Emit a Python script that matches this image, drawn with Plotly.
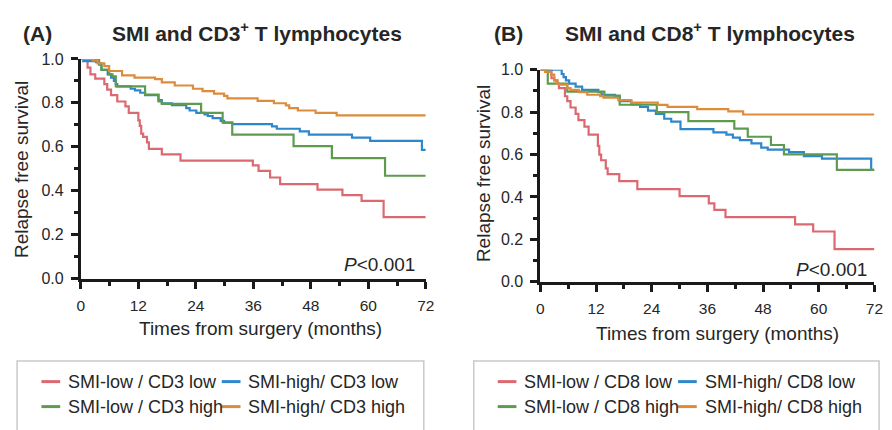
import plotly.graph_objects as go

W, H = 892, 430

# ---------------- data ----------------
months_ticks = [0, 12, 24, 36, 48, 60, 72]
surv_ticks = [0.0, 0.2, 0.4, 0.6, 0.8, 1.0]

# Panel A : SMI and CD3+ T lymphocytes
a_names = ["SMI-low / CD3 low", "SMI-high/ CD3 low", "SMI-low / CD3 high", "SMI-high/ CD3 high"]
a_lowlow_t = [0, 1.4, 2.0, 3.0, 4.9, 5.5, 6.3, 7.6, 9.3, 10.0, 12.0, 12.3, 12.6, 13.0, 13.8, 14.2,
              16.9, 20.8, 35.9, 37.1, 39.5, 41.6, 49.4, 54.6, 58.6, 63.2, 72]
a_lowlow_s = [1.0, 0.96, 0.93, 0.91, 0.885, 0.86, 0.835, 0.806, 0.784, 0.754, 0.72, 0.695, 0.66, 0.645,
              0.62, 0.59, 0.565, 0.537, 0.515, 0.49, 0.46, 0.43, 0.405, 0.38, 0.354, 0.28, 0.28]
a_highlow_t = [0, 0.5, 3.2, 3.8, 4.3, 5.6, 6.3, 6.9, 7.3, 7.6, 10.4, 11.3, 12.4, 13.4, 16.2, 16.9, 19.0,
               22.0, 22.7, 24.1, 25.8, 26.5, 27.5, 29.2, 29.9, 31.6, 39.9, 40.9, 45.7, 47.6, 56.6, 60.4,
               71.2, 72]
a_highlow_s = [1.0, 0.99, 0.985, 0.974, 0.95, 0.93, 0.915, 0.90, 0.885, 0.875, 0.864, 0.857, 0.846, 0.835,
               0.813, 0.798, 0.79, 0.776, 0.765, 0.754, 0.747, 0.74, 0.73, 0.718, 0.71, 0.703, 0.693,
               0.682, 0.67, 0.655, 0.642, 0.627, 0.586, 0.586]
a_lowhigh_t = [0, 3.8, 4.3, 5.9, 6.6, 7.3, 13.4, 16.2, 16.9, 25.1, 29.6, 31.6, 44.4, 52.4, 63.5, 72]
a_lowhigh_s = [1.0, 0.98, 0.95, 0.93, 0.92, 0.875, 0.838, 0.806, 0.795, 0.754, 0.71, 0.655, 0.603,
               0.548, 0.468, 0.468]
a_highhigh_t = [0, 2.5, 3.5, 4.9, 5.9, 8.6, 11.2, 15.5, 16.9, 19.6, 23.4, 25.4, 27.8, 29.9, 30.6, 36.9,
                40.3, 42.8, 43.5, 45.3, 49.0, 53.4, 72]
a_highhigh_s = [1.0, 0.993, 0.98, 0.967, 0.945, 0.925, 0.915, 0.908, 0.893, 0.879, 0.864, 0.853, 0.842,
                0.832, 0.82, 0.809, 0.798, 0.788, 0.776, 0.765, 0.754, 0.743, 0.743]

# Panel B : SMI and CD8+ T lymphocytes
b_names = ["SMI-low / CD8 low", "SMI-high/ CD8 low", "SMI-low / CD8 high", "SMI-high/ CD8 high"]
b_lowlow_t = [0, 2.4, 3.0, 3.7, 4.0, 5.3, 5.8, 6.5, 7.6, 8.2, 9.5, 10.4, 12.4, 12.7, 13.1, 14.1, 14.5,
              17.0, 20.9, 30.0, 36.3, 37.5, 39.9, 54.9, 58.8, 63.4, 72]
b_lowlow_s = [1.0, 0.96, 0.95, 0.935, 0.913, 0.875, 0.852, 0.822, 0.792, 0.762, 0.732, 0.694, 0.641,
              0.60, 0.573, 0.535, 0.508, 0.475, 0.437, 0.404, 0.37, 0.339, 0.305, 0.271, 0.237, 0.154,
              0.154]
b_highlow_t = [0, 4.6, 5.0, 5.5, 6.2, 7.6, 9.0, 12.5, 13.2, 16.1, 17.1, 19.6, 21.5, 23.2, 24.9, 26.7,
               28.2, 30.2, 37.3, 40.1, 41.5, 43.0, 45.5, 47.6, 49.0, 53.6, 56.8, 60.7, 71.3, 72]
b_highlow_s = [1.0, 0.98, 0.965, 0.95, 0.935, 0.92, 0.905, 0.894, 0.882, 0.875, 0.852, 0.837, 0.825,
               0.807, 0.792, 0.769, 0.755, 0.72, 0.705, 0.694, 0.68, 0.668, 0.653, 0.633, 0.623, 0.611,
               0.593, 0.581, 0.528, 0.528]
b_lowhigh_t = [0, 1.6, 5.8, 13.8, 17.1, 25.1, 31.9, 41.8, 44.7, 49.7, 52.5, 63.9, 72]
b_lowhigh_s = [1.0, 0.935, 0.897, 0.878, 0.835, 0.80, 0.758, 0.722, 0.684, 0.645, 0.601, 0.528, 0.528]
b_highhigh_t = [0, 1.0, 2.3, 3.0, 3.5, 4.0, 5.8, 6.5, 8.3, 10.1, 12.9, 13.6, 16.8, 19.6, 25.3, 27.4,
                33.8, 40.5, 43.7, 72]
b_highhigh_s = [1.0, 0.99, 0.977, 0.95, 0.935, 0.93, 0.913, 0.905, 0.894, 0.882, 0.875, 0.868, 0.857,
                0.845, 0.834, 0.825, 0.814, 0.804, 0.789, 0.789]

colors = ["#dc6870", "#2f87cb", "#5f9b4f", "#dd8c3d"]
panel_titles = ["SMI and CD3<sup>+</sup> T lymphocytes", "SMI and CD8<sup>+</sup> T lymphocytes"]
panel_tags = ["(A)", "(B)"]
p_text = "<i>P</i>&lt;0.001"

FONT = "Liberation Sans, Arial, sans-serif"
TXT = "#262626"


def px(x):
    return x / W


def py(y):
    return 1 - y / H


# plot-area pixel boxes (left, right, top(1.0), bottom(0.0))
boxes = [(78, 428, 53, 281.7), (544.3, 883.3, 64.3, 285)]

series = [
    [(a_lowlow_t, a_lowlow_s), (a_highlow_t, a_highlow_s), (a_lowhigh_t, a_lowhigh_s), (a_highhigh_t, a_highhigh_s)],
    [(b_lowlow_t, b_lowlow_s), (b_highlow_t, b_highlow_s), (b_lowhigh_t, b_lowhigh_s), (b_highhigh_t, b_highhigh_s)],
]
names = [a_names, b_names]

fig = go.Figure()
annotations = []
shapes = []

for p in range(2):
    xa = "x" if p == 0 else "x2"
    ya = "y" if p == 0 else "y2"
    for k, (t, s) in enumerate(series[p]):
        fig.add_trace(go.Scatter(x=t, y=s, mode="lines", line=dict(shape="hv", color=colors[k], width=2.2),
                                 name=names[p][k], xaxis=xa, yaxis=ya, showlegend=False))

axis_common = dict(showgrid=False, zeroline=False, showline=True, linecolor="#1a1a1a", linewidth=3,
                   ticks="outside", tickcolor="#1a1a1a", tickwidth=2.5, ticklen=7,
                   tickfont=dict(family=FONT, size=16, color=TXT))

layout_axes = {}
for p in range(2):
    l, r, top, bot = boxes[p]
    sfx = "" if p == 0 else "2"
    layout_axes["xaxis" + sfx] = dict(axis_common, domain=[px(l), px(r)], range=[0, 72],
                                      tickvals=months_ticks, anchor="y" + sfx, ticklabelstandoff=4,
                                      tickfont=dict(family=FONT, size=15.5, color=TXT),
                                      minor=dict(dtick=6, tick0=0, ticks="outside", ticklen=4, tickwidth=2.5,
                                                 tickcolor="#1a1a1a"))
    layout_axes["yaxis" + sfx] = dict(axis_common, domain=[py(bot), py(top)], range=[0, 1],
                                      tickvals=surv_ticks, tickformat=".1f", anchor="x" + sfx,
                                      ticklabelstandoff=4,
                                      minor=dict(dtick=0.1, tick0=0, ticks="outside", ticklen=4, tickwidth=2.5,
                                                 tickcolor="#1a1a1a"))

# texts: titles, tags, axis titles, p-values
title_cx = [257, 716]
tag_x = [17, 495]
xtitle_pos = [(260, 334), (724, 339)]
ytitle_pos = [(18, 168), (486, 172)]
p_pos = [(419, 267), (878, 272)]
for p in range(2):
    annotations.append(dict(text="<b>" + panel_titles[p] + "</b>", x=px(title_cx[p]), y=py(25), xref="paper",
                            yref="paper", showarrow=False, xanchor="center", yanchor="middle",
                            font=dict(family=FONT, size=21, color=TXT)))
    annotations.append(dict(text="<b>" + panel_tags[p] + "</b>", x=px(tag_x[p]), y=py(27), xref="paper",
                            yref="paper", showarrow=False, xanchor="left", yanchor="middle",
                            font=dict(family=FONT, size=21, color=TXT)))
    annotations.append(dict(text="Times from surgery (months)", x=px(xtitle_pos[p][0]), y=py(xtitle_pos[p][1]),
                            xref="paper", yref="paper", showarrow=False, xanchor="center", yanchor="middle",
                            font=dict(family=FONT, size=19, color=TXT)))
    annotations.append(dict(text="Relapse free survival", x=px(ytitle_pos[p][0]), y=py(ytitle_pos[p][1]),
                            xref="paper", yref="paper", showarrow=False, xanchor="center", yanchor="middle",
                            textangle=-90, font=dict(family=FONT, size=19, color=TXT)))
    annotations.append(dict(text=p_text, x=px(p_pos[p][0]), y=py(p_pos[p][1]), xref="paper", yref="paper",
                            showarrow=False, xanchor="right", yanchor="middle",
                            font=dict(family=FONT, size=19, color=TXT)))

# manual legends (boxes partially cut by the bottom edge)
legend_boxes = [(13.3, 426), (476.7, 888)]
legend_top = 367.5
row_y = [389, 415]
col_sample_x = [[38, 221], [501, 684]]
for p in range(2):
    l, r = legend_boxes[p]
    shapes.append(dict(type="rect", xref="paper", yref="paper", x0=px(l), x1=px(r), y0=py(legend_top),
                       y1=py(460), line=dict(color="#c9c9c9", width=1.5), fillcolor="rgba(0,0,0,0)"))
    for k in range(4):
        row = k // 2
        col = k % 2
        sx = col_sample_x[p][col]
        yy = row_y[row]
        shapes.append(dict(type="line", xref="paper", yref="paper", x0=px(sx), x1=px(sx + 19), y0=py(yy),
                           y1=py(yy), line=dict(color=colors[k], width=3)))
        annotations.append(dict(text=names[p][k], x=px(sx + 25), y=py(yy), xref="paper", yref="paper",
                                showarrow=False, xanchor="left", yanchor="middle",
                                font=dict(family=FONT, size=18, color=TXT)))

fig.update_layout(
    width=W, height=H, margin=dict(l=0, r=0, t=0, b=0),
    paper_bgcolor="white", plot_bgcolor="white",
    annotations=annotations, shapes=shapes, showlegend=False,
    **layout_axes,
)

fig.write_html("out.html")
